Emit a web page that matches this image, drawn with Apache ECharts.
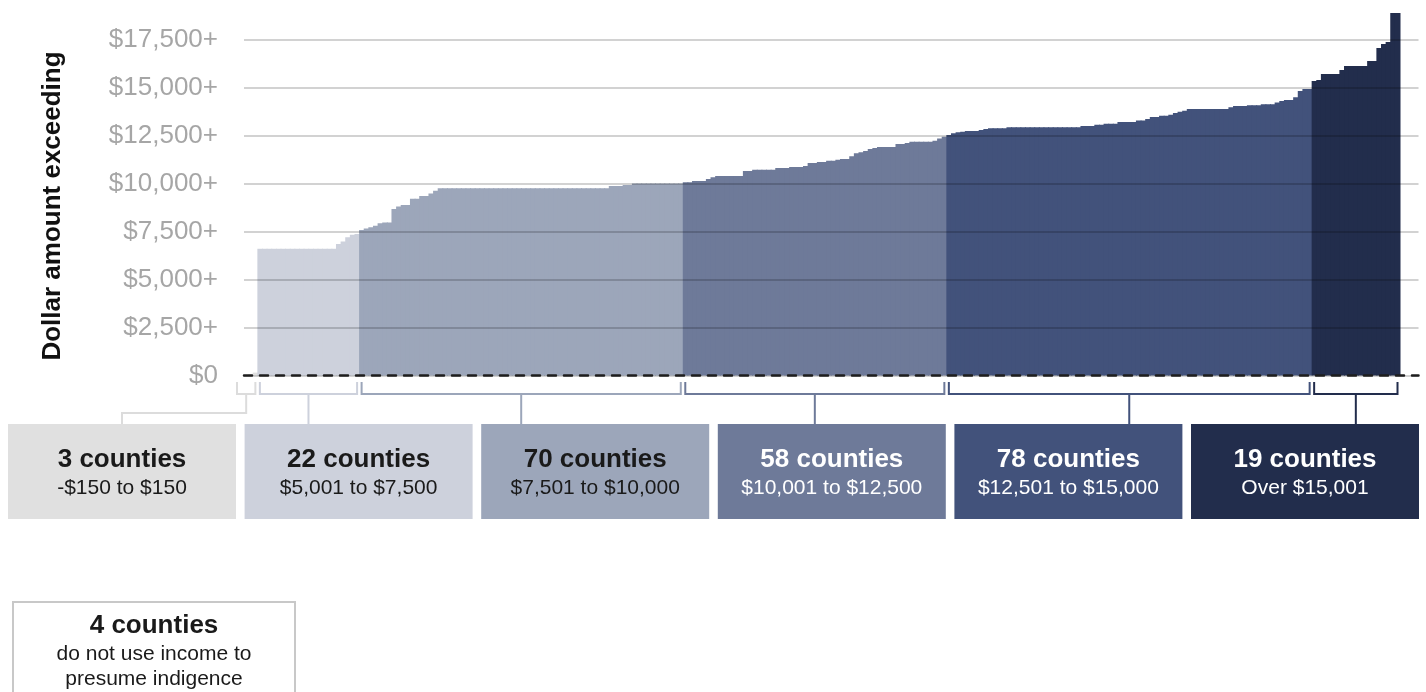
<!DOCTYPE html>
<html><head><meta charset="utf-8">
<script src="https://cdn.jsdelivr.net/npm/echarts@6/dist/echarts.min.js"></script>
<style>html,body{margin:0;padding:0;background:#fff}#c{width:1426px;height:692px}</style>
</head><body><div id="c"></div>
<script>
// ---- data ----
const yTicks = [0, 2500, 5000, 7500, 10000, 12500, 15000, 17500];
const groupTitles = ['3 counties', '22 counties', '70 counties', '58 counties', '78 counties', '19 counties'];
const groupRanges = ['-$150 to $150', '$5,001 to $7,500', '$7,501 to $10,000', '$10,001 to $12,500', '$12,501 to $15,000', 'Over $15,001'];
const noIncomeTitle = '4 counties';
const noIncomeText = ['do not use income to', 'presume indigence'];
const yTitle = 'Dollar amount exceeding';

const g1 = [-100, 60, 150];
const g2 = [6600, 6600, 6600, 6600, 6600, 6600, 6600, 6600, 6600, 6600, 6600, 6600, 6600, 6600, 6600, 6600, 6600,
  6850, 6975, 7200, 7325, 7375];
const g3 = [7575, 7650, 7725, 7800, 7925, 7975, 7975, 8675, 8800, 8875, 8875, 9200, 9200, 9350, 9350, 9475, 9625,
  9750, 9750, 9750, 9750, 9750, 9750, 9750, 9750, 9750, 9750, 9750, 9750, 9750, 9750, 9750, 9750, 9750, 9750, 9750,
  9750, 9750, 9750, 9750, 9750, 9750, 9750, 9750, 9750, 9750, 9750, 9750, 9750, 9750, 9750, 9750, 9750, 9750,
  9875, 9875, 9875, 9925, 9925,
  9995, 9995, 9995, 9995, 9995, 9995, 9995, 9995, 9995, 9995, 9995];
const g4 = [10060, 10060, 10130, 10130, 10130, 10235, 10320, 10390, 10390, 10390, 10390, 10390, 10390,
  10650, 10650, 10720, 10720, 10720, 10720, 10720, 10805, 10805, 10805, 10860, 10860, 10860, 10910,
  11070, 11070, 11120, 11120, 11190, 11190, 11240, 11275, 11275, 11415, 11570, 11625, 11695, 11795, 11850,
  11900, 11900, 11900, 11900, 12055, 12055, 12110, 12180, 12180, 12180, 12180, 12180, 12230, 12350, 12440];
const g5 = [12530, 12615, 12665, 12700, 12735, 12735, 12735, 12785, 12840, 12875, 12875, 12875, 12875,
  12925, 12925, 12925, 12925, 12925, 12925, 12925, 12925, 12925, 12925, 12925, 12925, 12925, 12925, 12925, 12925,
  12995, 12995, 12995, 13065, 13065, 13115, 13115, 13115, 13205, 13205, 13205, 13205, 13275, 13275, 13360,
  13465, 13465, 13535, 13535, 13585, 13670, 13740, 13795,
  13880, 13880, 13880, 13880, 13880, 13880, 13880, 13880, 13880, 13965, 14035, 14035, 14035,
  14070, 14070, 14070, 14125, 14125, 14125, 14225, 14295, 14350, 14350, 14490, 14820, 14920, 14920];
const g6 = [15340, 15390, 15705, 15705, 15705, 15705, 15910, 16120, 16120, 16120, 16120, 16120,
  16380, 16380, 17055, 17265, 17370, 18880, 18880];

const groups = [g1, g2, g3, g4, g5, g6];
const groupColors = ['#e0e0e0', '#cdd1dc', '#9ca6ba', '#6e7a99', '#42527b', '#222d4c'];
const bracketColors = ['#dcdcdc', '#cdd1dc', '#9ca6ba', '#6e7a99', '#42527b', '#222d4c'];
const textColors = ['#1a1a1a', '#1a1a1a', '#1a1a1a', '#ffffff', '#ffffff', '#ffffff'];

// ---- build ----
const values = [];
const groupStart = [];
groups.forEach((g, gi) => {
  groupStart.push(values.length);
  g.forEach(v => values.push({ value: v, itemStyle: { color: groupColors[gi] } }));
});
const categories = values.map((_, i) => 'County ' + (i + 1));

const FONT = '"Liberation Sans", Arial, Helvetica, sans-serif';
const chart = echarts.init(document.getElementById('c'), null, { renderer: 'canvas' });

const GRID_LEFT = 244, GRID_RIGHT = 7.5;
const nCats = categories.length + 4;
const band = (1426 - GRID_LEFT - GRID_RIGHT) / nCats;

chart.setOption({
  animation: false,
  backgroundColor: '#ffffff',
  grid: { left: GRID_LEFT, right: GRID_RIGHT, top: 10.7, bottom: 316.5, containLabel: false },
  xAxis: {
    type: 'category', data: categories, max: nCats - 1,
    z: 10,
    axisTick: { show: false }, axisLabel: { show: false },
    axisLine: { show: true, onZero: true, lineStyle: { color: '#1e1e1e', width: 2.5, type: [8, 8] } },
    splitLine: { show: false }
  },
  yAxis: {
    type: 'value', min: 0, max: 19000, interval: 2500, z: 5,
    axisLine: { show: false }, axisTick: { show: false },
    splitLine: { show: true, showMaxLine: false, lineStyle: { color: 'rgba(0,0,0,0.24)', width: 1.5 } },
    axisLabel: {
      margin: 26, color: '#a6a6a6', fontSize: 26, fontFamily: FONT,
      formatter: v => {
        if (yTicks.indexOf(v) < 0) return '';
        return v === 0 ? '$0' : '$' + v.toLocaleString('en-US') + '+';
      }
    }
  },
  series: [{
    type: 'bar', data: values, barWidth: band + 1, barGap: '-100%', z: 2, silent: true
  }]
});

// ---- annotations built from the axis scale ----
const c0 = chart.convertToPixel({ xAxisIndex: 0 }, 0);
const c1 = chart.convertToPixel({ xAxisIndex: 0 }, 1);
const bw = c1 - c0;
const graphics = [];

const boxY = 424, boxH = 95, boxW = 228;
const boxX = i => 8 + i * 236.6;

groups.forEach((g, gi) => {
  const s = groupStart[gi], e = s + g.length - 1;
  let left = chart.convertToPixel({ xAxisIndex: 0 }, s) - bw / 2 + 2;
  let right = chart.convertToPixel({ xAxisIndex: 0 }, e) + bw / 2 - 2.5;
  if (gi === 0) { left -= 9; }
  const mid = (left + right) / 2;
  const col = bracketColors[gi];
  graphics.push({
    type: 'polyline', silent: true, z: 20,
    shape: { points: [[left, 382], [left, 394], [right, 394], [right, 382]] },
    style: { stroke: col, lineWidth: 2, fill: null }
  });
  const bc = boxX(gi) + boxW / 2;
  if (gi === 0) {
    graphics.push({
      type: 'polyline', silent: true, z: 20,
      shape: { points: [[mid, 394], [mid, 413], [bc, 413], [bc, boxY]] },
      style: { stroke: col, lineWidth: 2, fill: null }
    });
  } else {
    graphics.push({
      type: 'polyline', silent: true, z: 20,
      shape: { points: [[mid, 394], [mid, boxY]] },
      style: { stroke: col, lineWidth: 2, fill: null }
    });
  }
  graphics.push({
    type: 'rect', silent: true, z: 20,
    shape: { x: boxX(gi), y: boxY, width: boxW, height: boxH },
    style: { fill: groupColors[gi] }
  });
  graphics.push({
    type: 'text', silent: true, z: 21, x: bc, y: 460,
    style: { text: groupTitles[gi], fill: textColors[gi], font: 'bold 26px ' + FONT, align: 'center', verticalAlign: 'middle', textAlign: 'center', textVerticalAlign: 'middle' }
  });
  graphics.push({
    type: 'text', silent: true, z: 21, x: bc, y: 488,
    style: { text: groupRanges[gi], fill: textColors[gi], font: '21px ' + FONT, align: 'center', verticalAlign: 'middle', textAlign: 'center', textVerticalAlign: 'middle' }
  });
});

// no-income box
graphics.push({
  type: 'rect', silent: true, z: 20,
  shape: { x: 13, y: 602, width: 282, height: 110 },
  style: { fill: '#ffffff', stroke: '#c8c8c8', lineWidth: 2 }
});
graphics.push({
  type: 'text', silent: true, z: 21, x: 154, y: 626,
  style: { text: noIncomeTitle, fill: '#1a1a1a', font: 'bold 26px ' + FONT, align: 'center', verticalAlign: 'middle', textAlign: 'center', textVerticalAlign: 'middle' }
});
noIncomeText.forEach((t, i) => graphics.push({
  type: 'text', silent: true, z: 21, x: 154, y: 654 + i * 25,
  style: { text: t, fill: '#1a1a1a', font: '21px ' + FONT, align: 'center', verticalAlign: 'middle', textAlign: 'center', textVerticalAlign: 'middle' }
}));

// y title
graphics.push({
  type: 'text', silent: true, z: 21, x: 53, y: 206, rotation: Math.PI / 2,
  style: { text: yTitle, fill: '#111111', font: 'bold 26px ' + FONT, align: 'center', verticalAlign: 'middle', textAlign: 'center', textVerticalAlign: 'middle' }
});

chart.setOption({ graphic: graphics });
</script>
</body></html>
